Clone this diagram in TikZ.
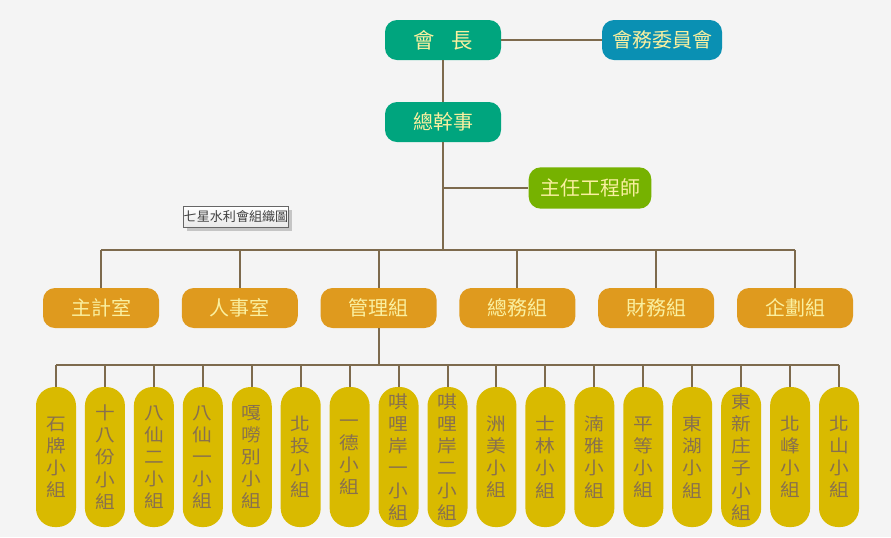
\documentclass[tikz,border=0pt]{standalone}
\usepackage{fontspec}
\newfontfamily\cjk{Noto Sans CJK TC}
\newfontfamily\cjkwide[FakeStretch=1.12]{Noto Sans CJK TC}
\usetikzlibrary{shadows}
\definecolor{bgc}{RGB}{244,244,244}
\definecolor{linec}{RGB}{125,106,77}
\definecolor{greenc}{RGB}{0,165,126}
\definecolor{bluec}{RGB}{10,144,179}
\definecolor{limec}{RGB}{118,178,0}
\definecolor{orangec}{RGB}{223,154,30}
\definecolor{mustc}{RGB}{217,186,0}
\definecolor{txty}{RGB}{250,240,160}
\definecolor{grptxt}{RGB}{136,112,78}
\begin{document}
\begin{tikzpicture}[x=0.75pt,y=-0.75pt,
  link/.style={draw=linec,line width=1.5pt},
  box/.style={rounded corners=9pt,minimum width=87pt,minimum height=30pt,inner sep=0pt,
    text=txty,font=\cjk\fontsize{15}{18}\selectfont},
  dept/.style={box,fill=orangec},
  grp/.style={rounded corners=14pt,fill=mustc,minimum width=30pt,minimum height=105pt,
    inner xsep=0pt,inner ysep=1pt,align=center,text=grptxt,font=\cjkwide\fontsize{13.2}{16.6}\selectfont},
  ttlbox/.style={draw=gray!80!black,line width=.5pt,top color=white,bottom color=gray!18,
    minimum width=79pt,minimum height=15.5pt,inner sep=0pt,text=black!75,
    font=\cjk\fontsize{9.8}{11}\selectfont,
    drop shadow={shadow xshift=2.5pt,shadow yshift=-2.5pt,opacity=.4}}]
  \fill[bgc] (0,0) rectangle (891,537);
  \node[box,fill=greenc,font=\cjk\fontsize{16}{18}\selectfont] (chair) at (443,40) {會\hspace{.75em}長};
  \node[box,fill=bluec,minimum width=90pt] (board) at (662,40) {會務委員會};
  \node[box,fill=greenc] (gm) at (443,122) {總幹事};
  \node[box,fill=limec,minimum width=92pt,minimum height=31pt] (eng) at (590,188) {主任工程師};
  \node[ttlbox] (ttl) at (236,217) {七星水利會組織圖};
  \draw[link] (chair.east) -- (board.west);
  \draw[link] (chair) -- (gm);
  \draw[link] (gm.south |- eng.west) -- (eng.west);
  % departments
  \coordinate (bar) at (443,250);
  \foreach \t [count=\i] in {主計室,人事室,管理組,總務組,財務組,企劃組}
    \node[dept] (d\i) at ({101+138.8*(\i-1)},308) {\t};
  \draw[link] (gm.south) -- (bar);
  \draw[link] (bar -| d1.north) -- (bar -| d6.north);
  \foreach \i in {1,...,6}
    \draw[link] (bar -| d\i.north) -- (d\i.north);
  % groups
  \coordinate (gbar) at (378,365);
  \foreach \t [count=\i from 0] in {{石\\牌\\小\\組},{十\\八\\份\\小\\組},{八\\仙\\二\\小\\組},
    {八\\仙\\一\\小\\組},{嘎\\嘮\\別\\小\\組},{北\\投\\小\\組},{一\\德\\小\\組},
    {唭\\哩\\岸\\一\\小\\組},{唭\\哩\\岸\\二\\小\\組},{洲\\美\\小\\組},{士\\林\\小\\組},
    {湳\\雅\\小\\組},{平\\等\\小\\組},{東\\湖\\小\\組},{東\\新\\庄\\子\\小\\組},
    {北\\峰\\小\\組},{北\\山\\小\\組}}
    \node[grp] (g\i) at ({56+48.94*\i},457) {\t};
  \draw[link] (d3.south) -- (d3.south |- gbar);
  \draw[link] (gbar -| g0.north) -- (gbar -| g16.north);
  \foreach \i in {0,...,16}
    \draw[link] (gbar -| g\i.north) -- (g\i.north);
\end{tikzpicture}
\end{document}
